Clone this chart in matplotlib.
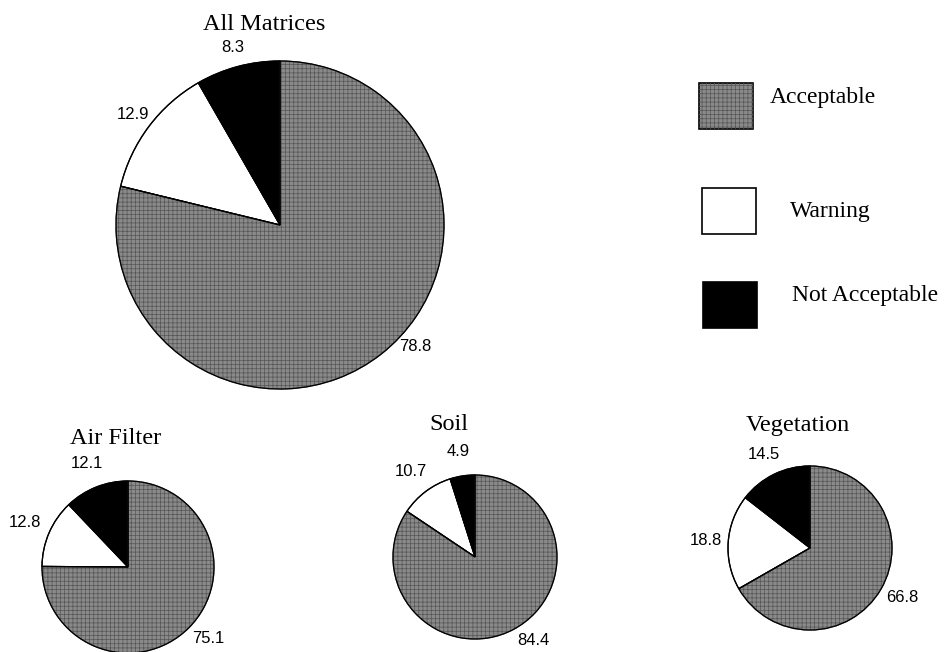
import numpy as np
import matplotlib
matplotlib.use('Agg')
import matplotlib.pyplot as plt
from matplotlib.patches import Rectangle

# Data
categories = ['Not Acceptable', 'Warning', 'Acceptable']
matrices = ['All Matrices', 'Air Filter', 'Soil', 'Vegetation']
not_acceptable = [8.3, 12.1, 4.9, 14.5]
warning = [12.9, 12.8, 10.7, 18.8]
acceptable = [78.8, 75.1, 84.4, 66.8]

colors = ['black', 'white', '#8a8a8a']
serif = 'Liberation Serif'
sans = 'Liberation Sans'
plt.rcParams['hatch.linewidth'] = 0.5

W, H = 946, 652

# layout in pixels: pie centre, radius, title position, label distance
centres = [(280, 225), (128, 567), (475, 557), (810, 548)]
radii = [164, 86, 82, 82]
title_pos = [(264, 24), (116, 438), (449, 425), (798, 425)]
label_dist = [1.12, 1.3, 1.3, 1.27]
gray_label_dist = [1.11, 1.25, 1.24, 1.28]
gray_label_angle = [-42, -42, -55, -28]   # label of the big slice sits off-centre

fig = plt.figure(figsize=(W / 100, H / 100), dpi=100)
ax = fig.add_axes([0, 0, 1, 1])

for i, name in enumerate(matrices):
    vals = [not_acceptable[i], warning[i], acceptable[i]]
    cx, cy = centres[i]
    r = radii[i]
    wedges, _ = ax.pie(vals, colors=colors, startangle=90, counterclock=True,
                       center=(cx, H - cy), radius=r,
                       wedgeprops=dict(edgecolor='black', linewidth=0.9))
    # halftone-ish texture on the grey slice
    wedges[2].set_hatch('++++')
    wedges[2].set_edgecolor('#555555')
    ax.pie(vals, colors=['none'] * 3, startangle=90, counterclock=True,
           center=(cx, H - cy), radius=r,
           wedgeprops=dict(edgecolor='black', linewidth=0.9))
    # value labels
    frac = np.array(vals) / np.sum(vals)
    start = 90 + 360 * np.concatenate([[0], np.cumsum(frac)[:-1]])
    mids = start + 180 * frac
    mids[2] = gray_label_angle[i]
    dists = [label_dist[i], label_dist[i], gray_label_dist[i]]
    for v, a, d in zip(vals, mids, dists):
        d = d * r
        ax.text(cx + d * np.cos(np.radians(a)), H - cy + d * np.sin(np.radians(a)),
                f'{v:.1f}', ha='center', va='center', fontsize=12, family=sans)
    tx, ty = title_pos[i]
    ax.text(tx, H - ty, name, ha='center', va='center', fontsize=17.5, family=serif)

# legend boxes
box_xy = [(699, 83), (702, 188), (703, 282)]
text_xy = [(770, 97), (790, 211), (792, 296)]
for lab, col, (bx, by), (lx, ly) in zip(categories[::-1], colors[::-1], box_xy, text_xy):
    box = Rectangle((bx, H - by - 46), 54, 46, facecolor=col,
                    edgecolor='black', linewidth=1.2)
    ax.add_patch(box)
    if lab == 'Acceptable':
        ax.add_patch(Rectangle((bx, H - by - 46), 54, 46, facecolor='none',
                               edgecolor='#555555', linewidth=0, hatch='++++'))
    ax.text(lx, H - ly, lab, ha='left', va='center', fontsize=17, family=serif)

ax.set_xlim(0, W)
ax.set_ylim(0, H)
ax.set_aspect('equal')
ax.axis('off')

fig.savefig('out.png', dpi=100)
